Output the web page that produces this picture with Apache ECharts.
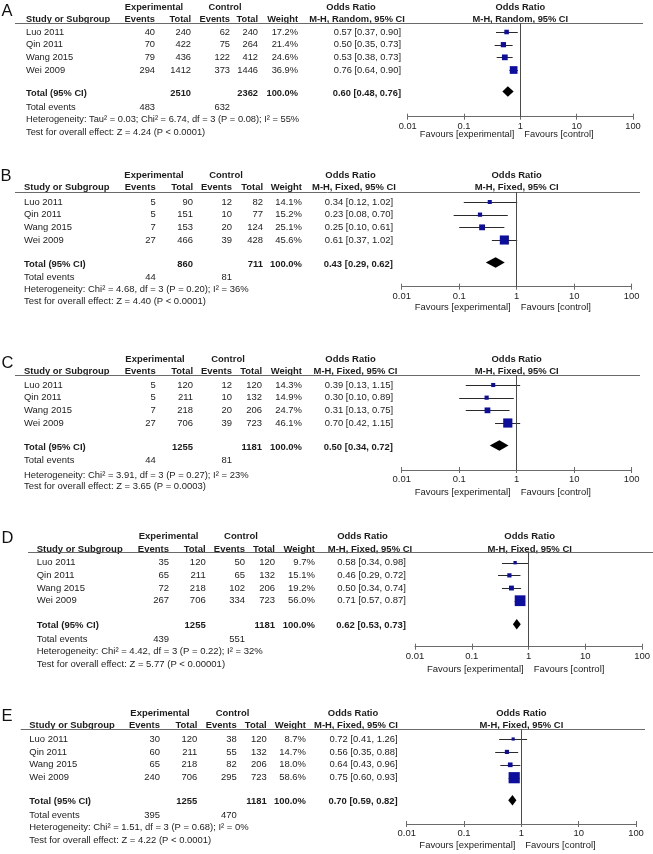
<!DOCTYPE html>
<html>
<head>
<meta charset="utf-8">
<script src="https://cdn.jsdelivr.net/npm/echarts@6/dist/echarts.min.js"></script>
<style>
html,body{margin:0;padding:0;background:#fff;}
#main{width:653px;height:854px;}
</style>
</head>
<body>
<div id="main"></div>
<script>
// ---------------- DATA ----------------
const panelLetters = ['A', 'B', 'C', 'D', 'E'];
const studyNames = ['Luo 2011', 'Qin 2011', 'Wang 2015', 'Wei 2009'];
const methodLabels = ['M-H, Random, 95% CI', 'M-H, Fixed, 95% CI', 'M-H, Fixed, 95% CI', 'M-H, Fixed, 95% CI', 'M-H, Fixed, 95% CI'];
const expEvents = [[40, 70, 79, 294], [5, 5, 7, 27], [5, 5, 7, 27], [35, 65, 72, 267], [30, 60, 65, 240]];
const expTotals = [[240, 422, 436, 1412], [90, 151, 153, 466], [120, 211, 218, 706], [120, 211, 218, 706], [120, 211, 218, 706]];
const ctlEvents = [[62, 75, 122, 373], [12, 10, 20, 39], [12, 10, 20, 39], [50, 65, 102, 334], [38, 55, 82, 295]];
const ctlTotals = [[240, 264, 412, 1446], [82, 77, 124, 428], [120, 132, 206, 723], [120, 132, 206, 723], [120, 132, 206, 723]];
const weights = [[17.2, 21.4, 24.6, 36.9], [14.1, 15.2, 25.1, 45.6], [14.3, 14.9, 24.7, 46.1], [9.7, 15.1, 19.2, 56.0], [8.7, 14.7, 18.0, 58.6]];
const orEst = [[0.57, 0.50, 0.53, 0.76], [0.34, 0.23, 0.25, 0.61], [0.39, 0.30, 0.31, 0.70], [0.58, 0.46, 0.50, 0.71], [0.72, 0.56, 0.64, 0.75]];
const orLow = [[0.37, 0.35, 0.38, 0.64], [0.12, 0.08, 0.10, 0.37], [0.13, 0.10, 0.13, 0.42], [0.34, 0.29, 0.34, 0.57], [0.41, 0.35, 0.43, 0.60]];
const orHigh = [[0.90, 0.73, 0.73, 0.90], [1.02, 0.70, 0.61, 1.02], [1.15, 0.89, 0.75, 1.15], [0.98, 0.72, 0.74, 0.87], [1.26, 0.88, 0.96, 0.93]];
const totalExp = [2510, 860, 1255, 1255, 1255];
const totalCtl = [2362, 711, 1181, 1181, 1181];
const totalEventsExp = [483, 44, 44, 439, 395];
const totalEventsCtl = [632, 81, 81, 551, 470];
const pooledOR = [0.60, 0.43, 0.50, 0.62, 0.70];
const pooledLow = [0.48, 0.29, 0.34, 0.53, 0.59];
const pooledHigh = [0.76, 0.62, 0.72, 0.73, 0.82];
const heterogeneity = [
  'Heterogeneity: Tau² = 0.03; Chi² = 6.74, df = 3 (P = 0.08); I² = 55%',
  'Heterogeneity: Chi² = 4.68, df = 3 (P = 0.20); I² = 36%',
  'Heterogeneity: Chi² = 3.91, df = 3 (P = 0.27); I² = 23%',
  'Heterogeneity: Chi² = 4.42, df = 3 (P = 0.22); I² = 32%',
  'Heterogeneity: Chi² = 1.51, df = 3 (P = 0.68); I² = 0%'
];
const overallTest = [
  'Test for overall effect: Z = 4.24 (P < 0.0001)',
  'Test for overall effect: Z = 4.40 (P < 0.0001)',
  'Test for overall effect: Z = 3.65 (P = 0.0003)',
  'Test for overall effect: Z = 5.77 (P < 0.00001)',
  'Test for overall effect: Z = 4.22 (P < 0.0001)'
];
const tickLabels = ['0.01', '0.1', '1', '10', '100'];
const favoursLabels = ['Favours [experimental]', 'Favours [control]'];
const headerGroups = ['Experimental', 'Control', 'Odds Ratio'];
const headerCols = ['Study or Subgroup', 'Events', 'Total', 'Events', 'Total', 'Weight'];
const totalLabels = ['Total (95% CI)', 'Total events', '100.0%'];

// ---------------- LAYOUT (positions / styles) ----------------
const L = [
  {letterX:1.5, letterY:11, h1:7, h2:19, ul:23, s1:32, sp:12.67, tot:93, te:107, het:119, test:132, study:26, ee:155, et:191, ce:230, ct:258, wt:298, orR:401, orH1:351, orH2:357, expC:154, ctlC:225, ul0:15, ul1:643, ax0:407.7, ax1:633, axY:116.7, fav:134.5, fs:9.3},
  {letterX:0.5, letterY:176, h1:175, h2:187, ul:192, s1:202, sp:12.67, tot:264, te:277.7, het:289, test:301, study:24, ee:155.7, et:193, ce:232, ct:263, wt:302, orR:393, orH1:350.5, orH2:354, expC:154, ctlC:226, ul0:15, ul1:640, ax0:401.7, ax1:631.7, axY:286.7, fav:307, fs:9.45},
  {letterX:1.5, letterY:363, h1:359, h2:371.7, ul:375, s1:385, sp:12.67, tot:447, te:460.7, het:475, test:486.7, study:24, ee:155.7, et:193, ce:232, ct:262, wt:302, orR:393, orH1:350.5, orH2:355.5, expC:155, ctlC:228, ul0:15, ul1:640, ax0:401.7, ax1:631.7, axY:470, fav:492.3, fs:9.45},
  {letterX:1.5, letterY:538, h1:536, h2:549, ul:551.7, s1:562.7, sp:12.67, tot:625.7, te:639, het:651.7, test:664, study:36.7, ee:169, et:205.7, ce:245, ct:275, wt:315, orR:406, orH1:362.5, orH2:370, expC:168.5, ctlC:241, ul0:28, ul1:653, ax0:415, ax1:644.3, axY:646.7, fav:669.3, fs:9.5},
  {letterX:1.5, letterY:716, h1:713, h2:725.7, ul:729, s1:739, sp:12.9, tot:801.7, te:815.7, het:827.7, test:840, study:29.3, ee:160, et:197.3, ce:236.7, ct:266.7, wt:306, orR:397.7, orH1:353, orH2:356, expC:160, ctlC:232.5, ul0:20.7, ul1:645, ax0:406.7, ax1:636, axY:824, fav:845.7, fs:9.45}
];
const FONT = '"Liberation Sans", Arial, Helvetica, sans-serif';
const TEXT = '#1c1c1c';
const GREY = '#6a6a6a';
const SQUARE = '#0d0d9e';

function squareSize(w) { return 0.16 * w + 1.8; }
function fmt2(v) { return v.toFixed(2); }
function orText(e, lo, hi) { return fmt2(e) + ' [' + fmt2(lo) + ', ' + fmt2(hi) + ']'; }

function txt(x, y, text, fs, align, bold) {
  return {
    type: 'text', x: x, y: y, silent: true,
    style: {
      text: String(text), fill: TEXT,
      font: (bold ? 'bold ' : '') + fs + 'px ' + FONT,
      textAlign: align || 'left', textVerticalAlign: 'middle'
    }
  };
}

const chart = echarts.init(document.getElementById('main'), null, {renderer: 'canvas'});
const grids = [], xAxes = [], yAxes = [], series = [], gfx = [];

L.forEach(function (l, p) {
  const x1 = (l.ax0 + l.ax1) / 2;
  const rowOf = function (y) { return 1 + (y - l.s1) / l.sp; };
  const rowY = function (i) { return l.s1 + i * l.sp; };
  const fs = l.fs;

  grids.push({left: l.ax0, top: l.ul, width: l.ax1 - l.ax0, height: l.axY - l.ul, containLabel: false});
  xAxes.push({
    type: 'log', logBase: 10, gridIndex: p, min: 0.01, max: 100, position: 'bottom',
    axisLine: {show: true, onZero: false, lineStyle: {color: GREY, width: 1}},
    axisTick: {show: true, length: 3, lineStyle: {color: GREY, width: 1}},
    axisLabel: {
      show: true, margin: 5, color: TEXT, fontSize: fs, fontFamily: FONT,
      formatter: function (v) { return tickLabels[Math.round(Math.log10(v)) + 2]; }
    },
    splitLine: {show: false}
  });
  xAxes.push({
    type: 'log', logBase: 10, gridIndex: p, min: 0.01, max: 100, position: 'bottom',
    axisLine: {show: false, onZero: false},
    axisTick: {show: true, inside: true, length: 3, lineStyle: {color: GREY, width: 1}},
    axisLabel: {show: false}, splitLine: {show: false}
  });
  yAxes.push({type: 'value', gridIndex: p, inverse: true, min: rowOf(l.ul), max: rowOf(l.axY), show: false});

  const xi = 2 * p;
  // confidence interval whiskers
  series.push({
    type: 'custom', xAxisIndex: xi, yAxisIndex: p, z: 2,
    data: orLow[p].map(function (lo, i) { return [lo, orHigh[p][i], i + 1]; }),
    encode: {x: [0, 1], y: 2},
    renderItem: function (params, api) {
      const a = api.coord([api.value(0), api.value(2)]);
      const b = api.coord([api.value(1), api.value(2)]);
      const y = Math.round(a[1]) + 0.5;
      return {type: 'line', shape: {x1: a[0], y1: y, x2: b[0], y2: y}, style: {stroke: '#2a2a2a', lineWidth: 1}};
    }
  });
  // study squares + line of no effect
  series.push({
    type: 'scatter', xAxisIndex: xi, yAxisIndex: p, z: 3,
    symbol: 'rect',
    symbolSize: function (val, params) { return squareSize(weights[p][params.dataIndex]); },
    itemStyle: {color: SQUARE, opacity: 1},
    emphasis: {disabled: true},
    data: orEst[p].map(function (v, i) { return [v, i + 1]; }),
    markLine: {
      silent: true, symbol: ['none', 'none'], label: {show: false}, animation: false,
      lineStyle: {color: '#4a4a4a', width: 1, type: 'solid', opacity: 1},
      data: [{xAxis: 1}]
    }
  });
  // pooled diamond
  const tRow = rowOf(l.tot - 1.5);
  series.push({
    type: 'custom', xAxisIndex: xi, yAxisIndex: p, z: 4,
    data: [[pooledLow[p], pooledOR[p], pooledHigh[p], tRow]],
    encode: {x: [0, 1, 2], y: 3},
    renderItem: function (params, api) {
      const r = api.value(3);
      const pl = api.coord([api.value(0), r]);
      const pe = api.coord([api.value(1), r]);
      const ph = api.coord([api.value(2), r]);
      const h = 5.3;
      return {
        type: 'polygon',
        shape: {points: [[pl[0], pe[1]], [pe[0], pe[1] - h], [ph[0], pe[1]], [pe[0], pe[1] + h]]},
        style: {fill: '#000'}
      };
    }
  });

  // ---- table text ----
  gfx.push({type: 'text', x: l.letterX, y: l.letterY, silent: true,
    style: {text: panelLetters[p], fill: '#111', font: '16.5px ' + FONT, textAlign: 'left', textVerticalAlign: 'middle'}});
  gfx.push(txt(l.expC, l.h1, headerGroups[0], fs, 'center', true));
  gfx.push(txt(l.ctlC, l.h1, headerGroups[1], fs, 'center', true));
  gfx.push(txt(l.orH1, l.h1, headerGroups[2], fs, 'center', true));
  gfx.push(txt(x1, l.h1, headerGroups[2], fs, 'center', true));
  gfx.push(txt(l.study, l.h2, headerCols[0], fs, 'left', true));
  gfx.push(txt(l.ee, l.h2, headerCols[1], fs, 'right', true));
  gfx.push(txt(l.et, l.h2, headerCols[2], fs, 'right', true));
  gfx.push(txt(l.ce, l.h2, headerCols[3], fs, 'right', true));
  gfx.push(txt(l.ct, l.h2, headerCols[4], fs, 'right', true));
  gfx.push(txt(l.wt, l.h2, headerCols[5], fs, 'right', true));
  gfx.push(txt(l.orH2, l.h2, methodLabels[p], fs, 'center', true));
  gfx.push(txt(x1, l.h2, methodLabels[p], fs, 'center', true));
  gfx.push({type: 'line', silent: true,
    shape: {x1: l.ul0, y1: Math.round(l.ul) + 0.5, x2: l.ul1, y2: Math.round(l.ul) + 0.5},
    style: {stroke: GREY, lineWidth: 1}});

  studyNames.forEach(function (name, i) {
    const y = rowY(i);
    gfx.push(txt(l.study, y, name, fs, 'left'));
    gfx.push(txt(l.ee, y, expEvents[p][i], fs, 'right'));
    gfx.push(txt(l.et, y, expTotals[p][i], fs, 'right'));
    gfx.push(txt(l.ce, y, ctlEvents[p][i], fs, 'right'));
    gfx.push(txt(l.ct, y, ctlTotals[p][i], fs, 'right'));
    gfx.push(txt(l.wt, y, weights[p][i].toFixed(1) + '%', fs, 'right'));
    gfx.push(txt(l.orR, y, orText(orEst[p][i], orLow[p][i], orHigh[p][i]), fs, 'right'));
  });

  gfx.push(txt(l.study, l.tot, totalLabels[0], fs, 'left', true));
  gfx.push(txt(l.et, l.tot, totalExp[p], fs, 'right', true));
  gfx.push(txt(l.ct, l.tot, totalCtl[p], fs, 'right', true));
  gfx.push(txt(l.wt, l.tot, totalLabels[2], fs, 'right', true));
  gfx.push(txt(l.orR, l.tot, orText(pooledOR[p], pooledLow[p], pooledHigh[p]), fs, 'right', true));
  gfx.push(txt(l.study, l.te, totalLabels[1], fs, 'left'));
  gfx.push(txt(l.ee, l.te, totalEventsExp[p], fs, 'right'));
  gfx.push(txt(l.ce, l.te, totalEventsCtl[p], fs, 'right'));
  gfx.push(txt(l.study, l.het, heterogeneity[p], fs, 'left'));
  gfx.push(txt(l.study, l.test, overallTest[p], fs, 'left'));
  gfx.push(txt(x1 - 6, l.fav, favoursLabels[0], fs, 'right'));
  gfx.push(txt(x1 + 4, l.fav, favoursLabels[1], fs, 'left'));
});

chart.setOption({
  animation: false,
  backgroundColor: '#ffffff',
  grid: grids,
  xAxis: xAxes,
  yAxis: yAxes,
  series: series,
  graphic: {elements: gfx}
});
</script>
</body>
</html>
